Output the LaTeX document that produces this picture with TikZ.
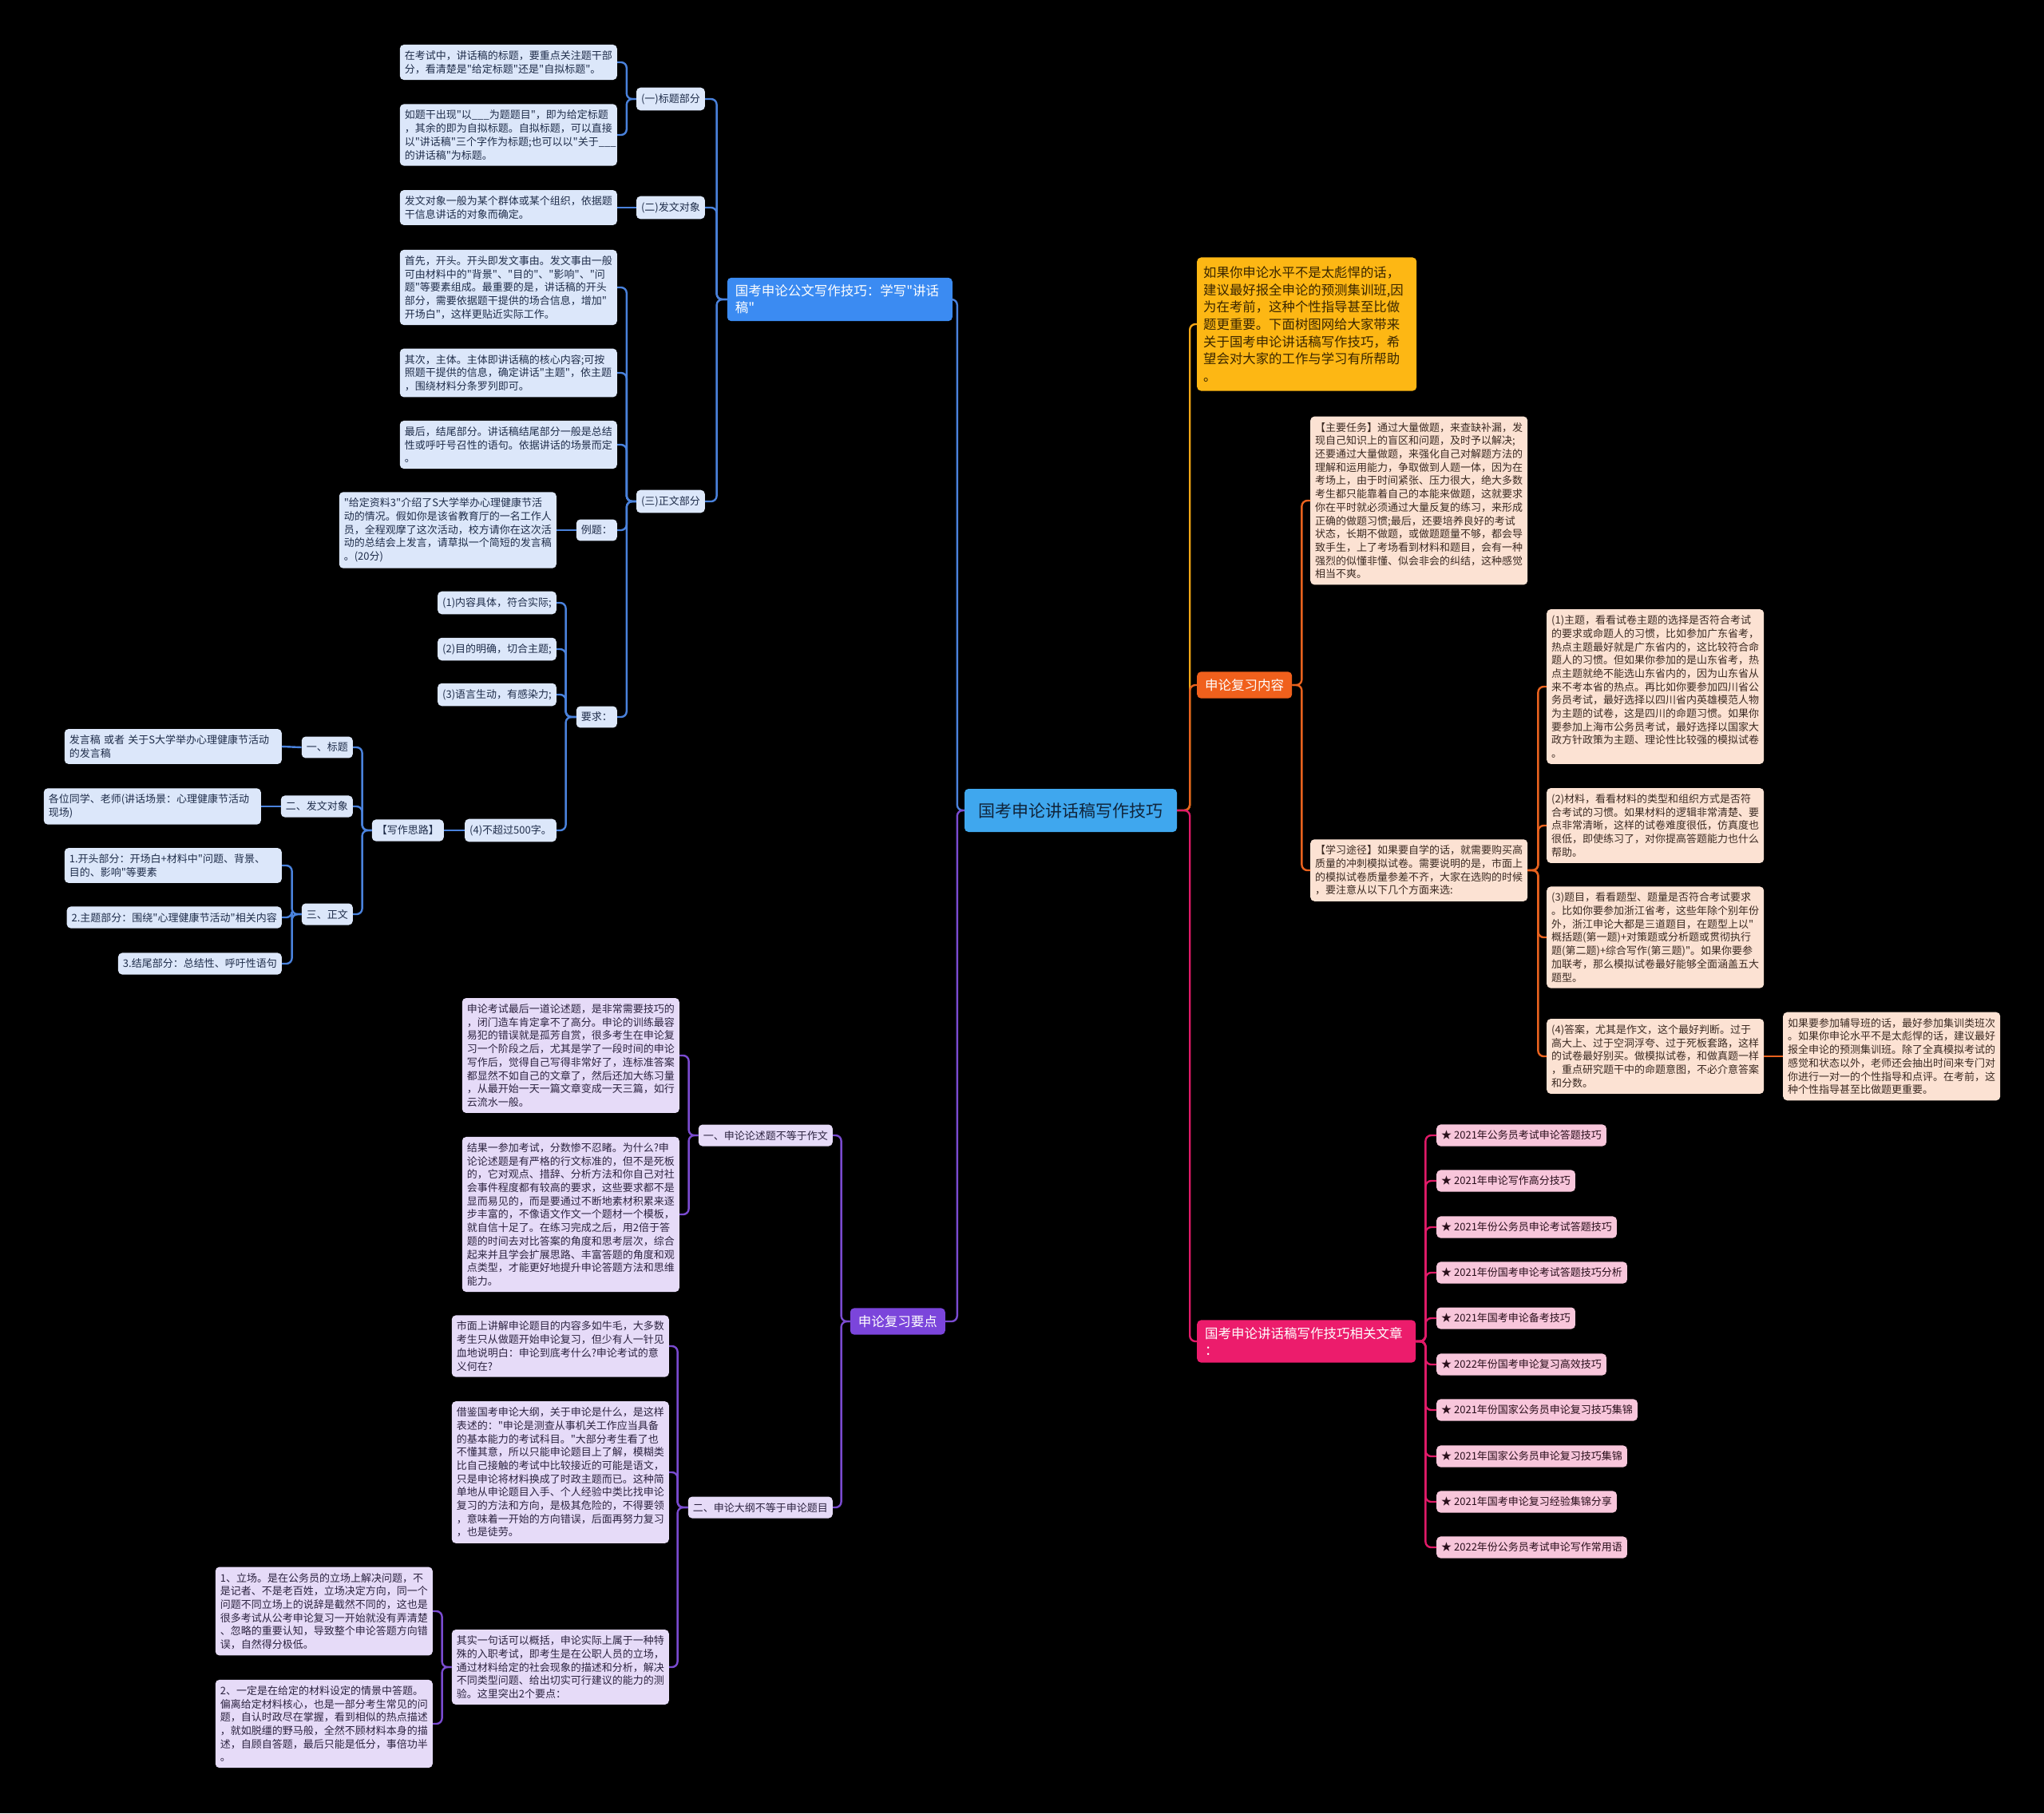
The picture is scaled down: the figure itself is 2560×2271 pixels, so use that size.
\documentclass[tikz,border=0pt]{standalone}
\usepackage{fontspec}
\setmainfont{Noto Sans CJK SC}[Ligatures=TeXOff]
\usepackage{tikz}

\definecolor{bhub}{HTML}{3B8BF2}
\definecolor{bfill}{HTML}{DCE7FA}
\definecolor{btext}{HTML}{1F2D4A}
\definecolor{blueln}{HTML}{4A82DC}
\definecolor{chub}{HTML}{3FA7EE}
\definecolor{ctext}{HTML}{10243A}
\definecolor{yfill}{HTML}{FDB714}
\definecolor{ytext}{HTML}{3A2600}
\definecolor{yellowln}{HTML}{F2A516}
\definecolor{ohub}{HTML}{F0601C}
\definecolor{ofill}{HTML}{FCE2D3}
\definecolor{otext}{HTML}{3B2A22}
\definecolor{orangeln}{HTML}{E8621E}
\definecolor{khub}{HTML}{EC1C6C}
\definecolor{kfill}{HTML}{F8C6DB}
\definecolor{ktext}{HTML}{2A0F1C}
\definecolor{pinkln}{HTML}{E01A68}
\definecolor{vhub}{HTML}{7B45DB}
\definecolor{vfill}{HTML}{E6DBF8}
\definecolor{vtext}{HTML}{2C2340}
\definecolor{violetln}{HTML}{7A4BD0}

\begin{document}
\begin{tikzpicture}[x=1pt, y=-1pt,
  leaf/.style={rounded corners=5pt, inner xsep=6pt, inner ysep=7.5pt, align=left,
    font=\fontsize{13}{16.7}\selectfont},
  bleaf/.style={leaf, fill=bfill, text=btext},
  oleaf/.style={leaf, fill=ofill, text=otext},
  kleaf/.style={leaf, fill=kfill, text=ktext},
  vleaf/.style={leaf, fill=vfill, text=vtext},
  wide/.style={text width=260pt},
  hub/.style={rounded corners=5pt, align=left, text=white, inner xsep=10pt, inner ysep=9pt,
    font=\fontsize{16.5}{21}\selectfont},
  bwire/.style={draw=blueln, line width=2.4pt, rounded corners=7pt},
  ywire/.style={draw=yellowln, line width=2.4pt, rounded corners=7pt},
  owire/.style={draw=orangeln, line width=2.4pt, rounded corners=7pt},
  kwire/.style={draw=pinkln, line width=2.4pt, rounded corners=7pt},
  vwire/.style={draw=violetln, line width=2.4pt, rounded corners=7pt}]

  % background
  \fill[black] (0,0) rectangle (2560,2271);

  % central topic
  \node[hub, fill=chub, text=ctext, align=center, minimum width=266pt, minimum height=54pt,
    font=\fontsize{21}{25}\selectfont] (ctr) at (1341,1015) {国考申论讲话稿写作技巧};

  % blue branch
  \node[hub, fill=bhub, text width=262pt, anchor=east] (bt) at (1193,375) {国考申论公文写作技巧：学写"讲话\\稿"};
  \node[bleaf, anchor=east] (p1) at (883,124) {(一)标题部分};
  \node[bleaf, anchor=east] (p2) at (883,260) {(二)发文对象};
  \node[bleaf, anchor=east] (p3) at (883,628) {(三)正文部分};
  \node[bleaf, wide, anchor=east] (b1) at (773,78) {在考试中，讲话稿的标题，要重点关注题干部\\分，看清楚是"给定标题"还是"自拟标题"。};
  \node[bleaf, wide, anchor=east] (b2) at (773,169) {如题干出现"以\_\_\_为题题目"，即为给定标题\\，其余的即为自拟标题。自拟标题，可以直接\\以"讲话稿"三个字作为标题;也可以以"关于\_\_\_\\的讲话稿"为标题。};
  \node[bleaf, wide, anchor=east] (b3) at (773,260) {发文对象一般为某个群体或某个组织，依据题\\干信息讲话的对象而确定。};
  \node[bleaf, wide, anchor=east] (b4) at (773,360) {首先，开头。开头即发文事由。发文事由一般\\可由材料中的"背景"、"目的"、"影响"、"问\\题"等要素组成。最重要的是，讲话稿的开头\\部分，需要依据题干提供的场合信息，增加"\\开场白"，这样更贴近实际工作。};
  \node[bleaf, wide, anchor=east] (b5) at (773,467) {其次，主体。主体即讲话稿的核心内容;可按\\照题干提供的信息，确定讲话"主题"，依主题\\，围绕材料分条罗列即可。};
  \node[bleaf, wide, anchor=east] (b6) at (773,557) {最后，结尾部分。讲话稿结尾部分一般是总结\\性或呼吁号召性的语句。依据讲话的场景而定\\。};
  \node[bleaf, anchor=east] (ex) at (773,664) {例题：};
  \node[bleaf, wide, anchor=east] (exq) at (697,664) {"给定资料3"介绍了S大学举办心理健康节活\\动的情况。假如你是该省教育厅的一名工作人\\员，全程观摩了这次活动，校方请你在这次活\\动的总结会上发言，请草拟一个简短的发言稿\\。(20分)};
  \node[bleaf, anchor=east] (rq) at (773,898) {要求：};
  \node[bleaf, anchor=east] (r1) at (697,755) {(1)内容具体，符合实际;};
  \node[bleaf, anchor=east] (r2) at (697,813) {(2)目的明确，切合主题;};
  \node[bleaf, anchor=east] (r3) at (697,870) {(3)语言生动，有感染力;};
  \node[bleaf, anchor=east] (r4) at (697,1040) {(4)不超过500字。};
  \node[bleaf, anchor=east] (wr) at (556,1040) {【写作思路】};
  \node[bleaf, anchor=east] (w1) at (442,936) {一、标题};
  \node[bleaf, anchor=east] (w2) at (442,1010) {二、发文对象};
  \node[bleaf, anchor=east] (w3) at (442,1145) {三、正文};
  \node[bleaf, wide, anchor=east] (w1a) at (353,935) {发言稿 或者 关于S大学举办心理健康节活动\\的发言稿};
  \node[bleaf, wide, anchor=east] (w2a) at (327,1010) {各位同学、老师(讲话场景：心理健康节活动\\现场)};
  \node[bleaf, wide, anchor=east] (w3a) at (353,1084) {1.开头部分：开场白+材料中"问题、背景、\\目的、影响"等要素};
  \node[bleaf, anchor=east] (w3b) at (353,1149) {2.主题部分：围绕"心理健康节活动"相关内容};
  \node[bleaf, anchor=east] (w3c) at (353,1207) {3.结尾部分：总结性、呼吁性语句};

  % yellow note
  \node[hub, fill=yfill, text=ytext, text width=259pt, inner xsep=8pt, inner ysep=11pt,
    font=\fontsize{16.4}{21.7}\selectfont, anchor=west] (yl) at (1499,406) {如果你申论水平不是太彪悍的话，\\建议最好报全申论的预测集训班,因\\为在考前，这种个性指导甚至比做\\题更重要。下面树图网给大家带来\\关于国考申论讲话稿写作技巧，希\\望会对大家的工作与学习有所帮助\\。};

  % orange branch
  \node[hub, fill=ohub, anchor=west] (oc) at (1499,858) {申论复习内容};
  \node[oleaf, wide, anchor=west] (o1) at (1641,627) {【主要任务】通过大量做题，来查缺补漏，发\\现自己知识上的盲区和问题，及时予以解决;\\还要通过大量做题，来强化自己对解题方法的\\理解和运用能力，争取做到人题一体，因为在\\考场上，由于时间紧张、压力很大，绝大多数\\考生都只能靠着自己的本能来做题，这就要求\\你在平时就必须通过大量反复的练习，来形成\\正确的做题习惯;最后，还要培养良好的考试\\状态，长期不做题，或做题题量不够，都会导\\致手生，上了考场看到材料和题目，会有一种\\强烈的似懂非懂、似会非会的纠结，这种感觉\\相当不爽。};
  \node[oleaf, wide, anchor=west] (o2) at (1641,1090) {【学习途径】如果要自学的话，就需要购买高\\质量的冲刺模拟试卷。需要说明的是，市面上\\的模拟试卷质量参差不齐，大家在选购的时候\\，要注意从以下几个方面来选:};
  \node[oleaf, wide, anchor=west] (o21) at (1937,860) {(1)主题，看看试卷主题的选择是否符合考试\\的要求或命题人的习惯，比如参加广东省考，\\热点主题最好就是广东省内的，这比较符合命\\题人的习惯。但如果你参加的是山东省考，热\\点主题就绝不能选山东省内的，因为山东省从\\来不考本省的热点。再比如你要参加四川省公\\务员考试，最好选择以四川省内英雄模范人物\\为主题的试卷，这是四川的命题习惯。如果你\\要参加上海市公务员考试，最好选择以国家大\\政方针政策为主题、理论性比较强的模拟试卷\\。};
  \node[oleaf, wide, anchor=west] (o22) at (1937,1034) {(2)材料，看看材料的类型和组织方式是否符\\合考试的习惯。如果材料的逻辑非常清楚、要\\点非常清晰，这样的试卷难度很低，仿真度也\\很低，即使练习了，对你提高答题能力也什么\\帮助。};
  \node[oleaf, wide, anchor=west] (o23) at (1937,1174) {(3)题目，看看题型、题量是否符合考试要求\\。比如你要参加浙江省考，这些年除个别年份\\外，浙江申论大都是三道题目，在题型上以"\\概括题(第一题)+对策题或分析题或贯彻执行\\题(第二题)+综合写作(第三题)"。如果你要参\\加联考，那么模拟试卷最好能够全面涵盖五大\\题型。};
  \node[oleaf, wide, anchor=west] (o24) at (1937,1323) {(4)答案，尤其是作文，这个最好判断。过于\\高大上、过于空洞浮夸、过于死板套路，这样\\的试卷最好别买。做模拟试卷，和做真题一样\\，重点研究题干中的命题意图，不必介意答案\\和分数。};
  \node[oleaf, wide, anchor=west] (o241) at (2233,1323) {如果要参加辅导班的话，最好参加集训类班次\\。如果你申论水平不是太彪悍的话，建议最好\\报全申论的预测集训班。除了全真模拟考试的\\感觉和状态以外，老师还会抽出时间来专门对\\你进行一对一的个性指导和点评。在考前，这\\种个性指导甚至比做题更重要。};

  % pink branch
  \node[hub, fill=khub, text width=254pt, anchor=west] (pk) at (1499,1680) {国考申论讲话稿写作技巧相关文章\\：};
  \node[kleaf, anchor=west] (k1) at (1799,1422) {★ 2021年公务员考试申论答题技巧};
  \node[kleaf, anchor=west] (k2) at (1799,1479) {★ 2021年申论写作高分技巧};
  \node[kleaf, anchor=west] (k3) at (1799,1537) {★ 2021年份公务员申论考试答题技巧};
  \node[kleaf, anchor=west] (k4) at (1799,1594) {★ 2021年份国考申论考试答题技巧分析};
  \node[kleaf, anchor=west] (k5) at (1799,1651) {★ 2021年国考申论备考技巧};
  \node[kleaf, anchor=west] (k6) at (1799,1709) {★ 2022年份国考申论复习高效技巧};
  \node[kleaf, anchor=west] (k7) at (1799,1766) {★ 2021年份国家公务员申论复习技巧集锦};
  \node[kleaf, anchor=west] (k8) at (1799,1824) {★ 2021年国家公务员申论复习技巧集锦};
  \node[kleaf, anchor=west] (k9) at (1799,1881) {★ 2021年国考申论复习经验集锦分享};
  \node[kleaf, anchor=west] (k10) at (1799,1938) {★ 2022年份公务员考试申论写作常用语};

  % violet branch
  \node[hub, fill=vhub, anchor=east] (pp) at (1184,1655) {申论复习要点};
  \node[vleaf, anchor=east] (u1) at (1043,1422) {一、申论论述题不等于作文};
  \node[vleaf, anchor=east] (u2) at (1043,1888) {二、申论大纲不等于申论题目};
  \node[vleaf, wide, anchor=east] (u11) at (851,1322) {申论考试最后一道论述题，是非常需要技巧的\\，闭门造车肯定拿不了高分。申论的训练最容\\易犯的错误就是孤芳自赏，很多考生在申论复\\习一个阶段之后，尤其是学了一段时间的申论\\写作后，觉得自己写得非常好了，连标准答案\\都显然不如自己的文章了，然后还加大练习量\\，从最开始一天一篇文章变成一天三篇，如行\\云流水一般。};
  \node[vleaf, wide, anchor=east] (u12) at (851,1521) {结果一参加考试，分数惨不忍睹。为什么?申\\论论述题是有严格的行文标准的，但不是死板\\的，它对观点、措辞、分析方法和你自己对社\\会事件程度都有较高的要求，这些要求都不是\\显而易见的，而是要通过不断地素材积累来逐\\步丰富的，不像语文作文一个题材一个模板，\\就自信十足了。在练习完成之后，用2倍于答\\题的时间去对比答案的角度和思考层次，综合\\起来并且学会扩展思路、丰富答题的角度和观\\点类型，才能更好地提升申论答题方法和思维\\能力。};
  \node[vleaf, wide, anchor=east] (u21) at (838,1686) {市面上讲解申论题目的内容多如牛毛，大多数\\考生只从做题开始申论复习，但少有人一针见\\血地说明白：申论到底考什么?申论考试的意\\义何在?};
  \node[vleaf, wide, anchor=east] (u22) at (838,1844) {借鉴国考申论大纲，关于申论是什么，是这样\\表述的："申论是测查从事机关工作应当具备\\的基本能力的考试科目。"大部分考生看了也\\不懂其意，所以只能申论题目上了解，模糊类\\比自己接触的考试中比较接近的可能是语文，\\只是申论将材料换成了时政主题而已。这种简\\单地从申论题目入手、个人经验中类比找申论\\复习的方法和方向，是极其危险的，不得要领\\，意味着一开始的方向错误，后面再努力复习\\，也是徒劳。};
  \node[vleaf, wide, anchor=east] (u23) at (838,2088) {其实一句话可以概括，申论实际上属于一种特\\殊的入职考试，即考生是在公职人员的立场，\\通过材料给定的社会现象的描述和分析，解决\\不同类型问题、给出切实可行建议的能力的测\\验。这里突出2个要点：};
  \node[vleaf, wide, anchor=east] (u231) at (542,2018) {1、立场。是在公务员的立场上解决问题，不\\是记者、不是老百姓，立场决定方向，同一个\\问题不同立场上的说辞是截然不同的，这也是\\很多考试从公考申论复习一开始就没有弄清楚\\、忽略的重要认知，导致整个申论答题方向错\\误，自然得分极低。};
  \node[vleaf, wide, anchor=east] (u232) at (542,2159) {2、一定是在给定的材料设定的情景中答题。\\偏离给定材料核心，也是一部分考生常见的问\\题，自认时政尽在掌握，看到相似的热点描述\\，就如脱缰的野马般，全然不顾材料本身的描\\述，自顾自答题，最后只能是低分，事倍功半\\。};

  % connectors, blue
  \draw[bwire] (ctr.west) -- ++(-9,0) |- (bt.east);
  \draw[bwire] (bt.west) -- ++(-13,0) |- (p1.east);
  \draw[bwire] (bt.west) -- ++(-13,0) |- (p2.east);
  \draw[bwire] (bt.west) -- ++(-13,0) |- (p3.east);
  \draw[bwire] (p1.west) -- ++(-12,0) |- (b1.east);
  \draw[bwire] (p1.west) -- ++(-12,0) |- (b2.east);
  \draw[bwire] (p2.west) -- (b3.east);
  \draw[bwire] (p3.west) -- ++(-12,0) |- (b4.east);
  \draw[bwire] (p3.west) -- ++(-12,0) |- (b5.east);
  \draw[bwire] (p3.west) -- ++(-12,0) |- (b6.east);
  \draw[bwire] (p3.west) -- ++(-12,0) |- (ex.east);
  \draw[bwire] (p3.west) -- ++(-12,0) |- (rq.east);
  \draw[bwire] (ex.west) -- (exq.east);
  \draw[bwire] (rq.west) -- ++(-13,0) |- (r1.east);
  \draw[bwire] (rq.west) -- ++(-13,0) |- (r2.east);
  \draw[bwire] (rq.west) -- ++(-13,0) |- (r3.east);
  \draw[bwire] (rq.west) -- ++(-13,0) |- (r4.east);
  \draw[bwire] (r4.west) -- (wr.east);
  \draw[bwire] (wr.west) -- ++(-12,0) |- (w1.east);
  \draw[bwire] (wr.west) -- ++(-12,0) |- (w2.east);
  \draw[bwire] (wr.west) -- ++(-12,0) |- (w3.east);
  \draw[bwire] (w1.west) -- (w1a.east);
  \draw[bwire] (w2.west) -- (w2a.east);
  \draw[bwire] (w3.west) -- ++(-12,0) |- (w3a.east);
  \draw[bwire] (w3.west) -- ++(-12,0) |- (w3b.east);
  \draw[bwire] (w3.west) -- ++(-12,0) |- (w3c.east);

  % connectors, right side
  \draw[ywire] (ctr.east) -- ++(16,0) |- (yl.west);
  \draw[owire] (ctr.east) -- ++(16,0) |- (oc.west);
  \draw[kwire] (ctr.east) -- ++(16,0) |- (pk.west);
  \draw[owire] (oc.east) -- ++(12,0) |- (o1.west);
  \draw[owire] (oc.east) -- ++(12,0) |- (o2.west);
  \draw[owire] (o2.east) -- ++(13,0) |- (o21.west);
  \draw[owire] (o2.east) -- ++(13,0) |- (o22.west);
  \draw[owire] (o2.east) -- ++(13,0) |- (o23.west);
  \draw[owire] (o2.east) -- ++(13,0) |- (o24.west);
  \draw[owire] (o24.east) -- (o241.west);
  \draw[kwire] (pk.east) -- ++(12,0) |- (k1.west);
  \draw[kwire] (pk.east) -- ++(12,0) |- (k2.west);
  \draw[kwire] (pk.east) -- ++(12,0) |- (k3.west);
  \draw[kwire] (pk.east) -- ++(12,0) |- (k4.west);
  \draw[kwire] (pk.east) -- ++(12,0) |- (k5.west);
  \draw[kwire] (pk.east) -- ++(12,0) |- (k6.west);
  \draw[kwire] (pk.east) -- ++(12,0) |- (k7.west);
  \draw[kwire] (pk.east) -- ++(12,0) |- (k8.west);
  \draw[kwire] (pk.east) -- ++(12,0) |- (k9.west);
  \draw[kwire] (pk.east) -- ++(12,0) |- (k10.west);

  % connectors, violet
  \draw[vwire] (ctr.west) -- ++(-9,0) |- (pp.east);
  \draw[vwire] (pp.west) -- ++(-11,0) |- (u1.east);
  \draw[vwire] (pp.west) -- ++(-11,0) |- (u2.east);
  \draw[vwire] (u1.west) -- ++(-12,0) |- (u11.east);
  \draw[vwire] (u1.west) -- ++(-12,0) |- (u12.east);
  \draw[vwire] (u2.west) -- ++(-13,0) |- (u21.east);
  \draw[vwire] (u2.west) -- ++(-13,0) |- (u22.east);
  \draw[vwire] (u2.west) -- ++(-13,0) |- (u23.east);
  \draw[vwire] (u23.west) -- ++(-12,0) |- (u231.east);
  \draw[vwire] (u23.west) -- ++(-12,0) |- (u232.east);
\end{tikzpicture}
\end{document}
